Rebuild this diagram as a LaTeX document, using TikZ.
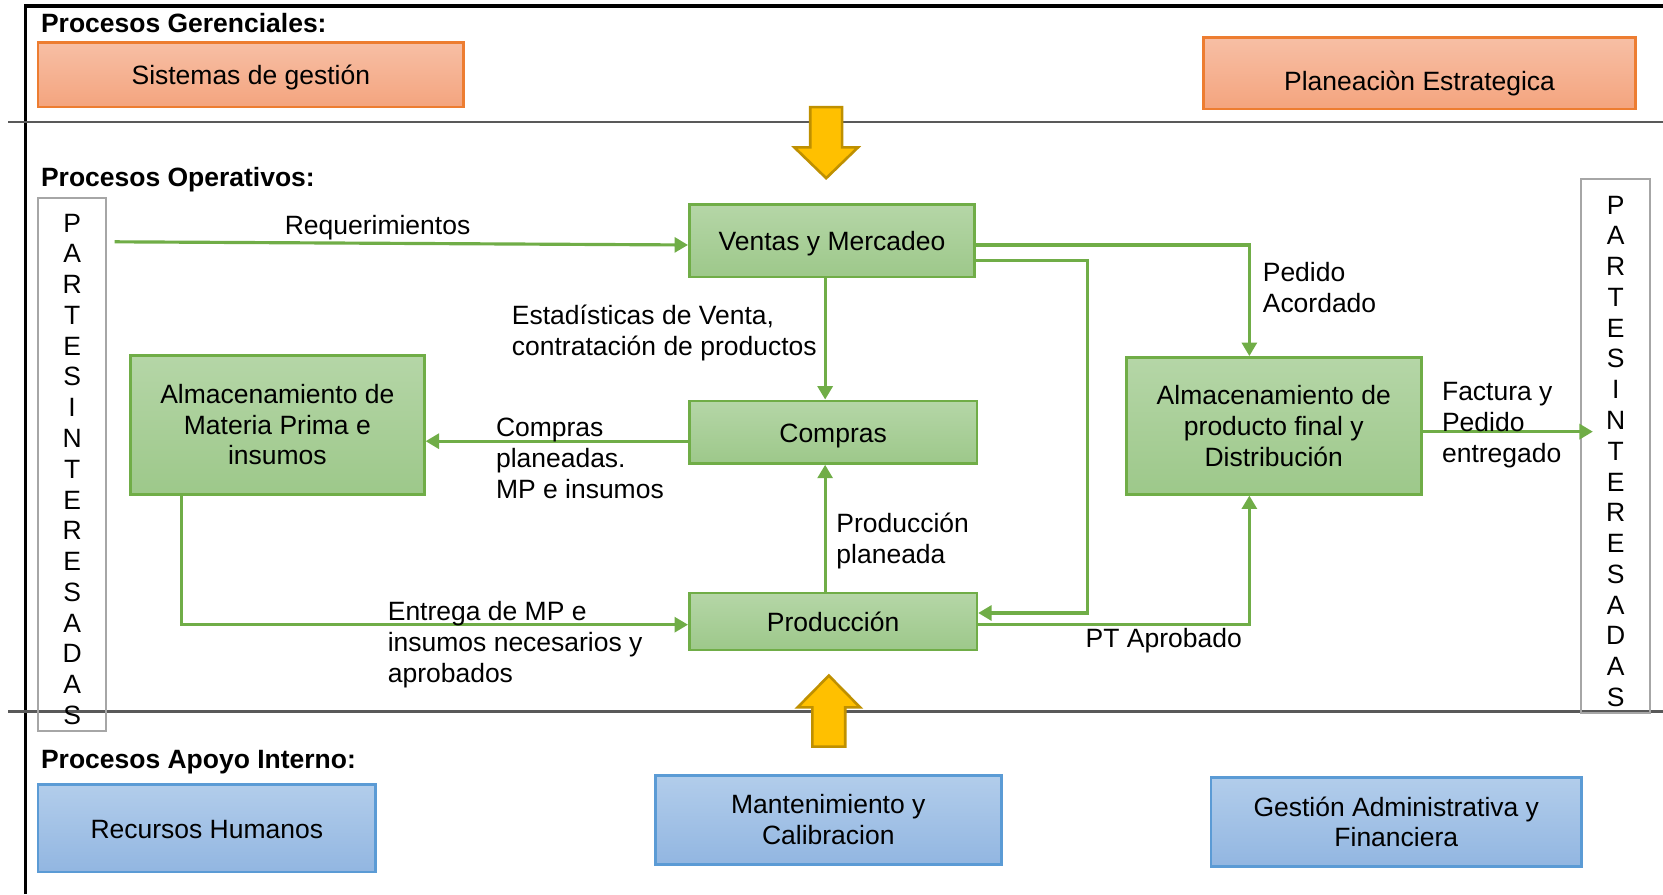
\documentclass[tikz,border=0pt]{standalone}
\usepackage{fontspec}
\setmainfont{Liberation Sans}
\usetikzlibrary{arrows.meta, calc}

\definecolor{naranjaArriba}{HTML}{F7BFA5}
\definecolor{naranjaAbajo}{HTML}{F4A47E}
\definecolor{naranjaBorde}{HTML}{ED7D31}
\definecolor{verdeArriba}{HTML}{B5D6A7}
\definecolor{verdeAbajo}{HTML}{9DC88A}
\definecolor{verdeBorde}{HTML}{70AD47}
\definecolor{azulArriba}{HTML}{B2CDEB}
\definecolor{azulAbajo}{HTML}{92B6E1}
\definecolor{azulBorde}{HTML}{5B9BD5}
\definecolor{amarillo}{HTML}{FFC000}
\definecolor{amarilloBorde}{HTML}{BF9000}
\definecolor{grisLinea}{HTML}{595959}
\definecolor{grisCaja}{HTML}{A6A6A6}

\newcommand{\letras}{P\\A\\R\\T\\E\\S\\I\\N\\T\\E\\R\\E\\S\\A\\D\\A\\S}

\tikzset{
  gerencial/.style={draw=naranjaBorde, line width=0.7pt, top color=naranjaArriba, bottom color=naranjaAbajo, align=center},
  operativo/.style={draw=verdeBorde, line width=0.7pt, top color=verdeArriba, bottom color=verdeAbajo, align=center},
  apoyo/.style={draw=azulBorde, line width=0.7pt, top color=azulArriba, bottom color=azulAbajo, align=center},
  unalinea/.style={text height=2.4mm, text depth=0.5mm},
  partes/.style={draw=grisCaja, line width=0.6pt},
  letrero/.style={align=center, inner sep=0pt},
  flecha/.style={draw=verdeBorde, line width=0.85pt, -{Triangle[length=3.6pt, width=4pt]}},
  etiqueta/.style={anchor=west, align=left, inner sep=0pt},
  titulo/.style={anchor=west, inner sep=0pt, font=\fontsize{7.1}{8.25}\selectfont\bfseries},
  bloque/.style={fill=amarillo, draw=amarilloBorde, line width=0.7pt}
}

\begin{document}
\begin{tikzpicture}[x=0.01cm, y=-0.01cm, font=\fontsize{7.1}{8.25}\selectfont]
\useasboundingbox (0,0) rectangle (1568,843);

% Marco y separadores
\draw[line width=1pt] (24,843) -- (24,6) -- (1568,6);
\draw[grisLinea, line width=0.7pt] (8,115) -- (1568,115);
\draw[grisLinea, line width=0.7pt] (8,671) -- (1568,671);

% Titulos
\node[titulo] (tger) at (38,22) {Procesos Gerenciales:};
\node[titulo] (top) at (38,169) {Procesos Operativos:};
\node[titulo] (tapo) at (38,719) {Procesos Apoyo Interno:};

% Procesos gerenciales
\node[gerencial, unalinea, minimum width=4.01cm, minimum height=0.61cm] (sistemas) at (236.5,70.5) {Sistemas de gestión};
\node[gerencial, minimum width=4.07cm, minimum height=0.64cm, text height=3.8mm, text depth=0.6mm] (planeacion) at (1338.5,69) {Planeaciòn Estrategica};

% Partes interesadas
\node[partes, minimum width=0.64cm, minimum height=5.02cm] (partesizq) at (68,438) {};
\node[letrero] (letrasizq) at (68,442.5) {\letras};
\node[partes, minimum width=0.65cm, minimum height=5.03cm] (partesder) at (1523.5,420.5) {};
\node[letrero] (letrasder) at (1523.5,425.5) {\letras};

% Procesos operativos
\node[operativo, unalinea, minimum width=2.69cm, minimum height=0.68cm] (ventas) at (784.5,227) {Ventas y Mercadeo};
\node[operativo, unalinea, minimum width=2.71cm, minimum height=0.59cm] (compras) at (785.5,407.5) {Compras};
\node[operativo, unalinea, minimum width=2.71cm, minimum height=0.54cm] (produccion) at (785.5,586) {Producción};
\node[operativo, minimum width=2.77cm, minimum height=1.31cm] (almmp) at (261.5,400.5) {Almacenamiento de\\Materia Prima e\\insumos};
\node[operativo, minimum width=2.78cm, minimum height=1.29cm] (almpf) at (1201,401.5) {Almacenamiento de\\producto final y\\Distribución};

% Procesos de apoyo
\node[apoyo, unalinea, minimum width=3.18cm, minimum height=0.82cm] (rrhh) at (195,781) {Recursos Humanos};
\node[apoyo, minimum width=3.26cm, minimum height=0.84cm] (mantenimiento) at (781,773) {Mantenimiento y\\Calibracion};
\node[apoyo, minimum width=3.49cm, minimum height=0.84cm] (gestion) at (1316.5,775) {Gestión Administrativa y\\Financiera};

% Conectores
\coordinate (reqini) at (108,228);
\draw[flecha] (reqini) -- (ventas.west |- 0,231);
\draw[flecha] (ventas.east |- 0,231) -| (1178,0 |- almpf.north);
\draw[flecha] (ventas.east |- 0,246) -- (1025,246) |- (produccion.east |- 0,578);
\draw[flecha] (778,0 |- ventas.south) -- (778,0 |- compras.north);
\draw[flecha] (compras.west |- 0,416) -- (almmp.east |- 0,416);
\draw[flecha] (778,0 |- produccion.north) -- (778,0 |- compras.south);
\draw[flecha] (171,0 |- almmp.south) |- (produccion.west |- 0,589);
\draw[flecha] (produccion.east |- 0,589) -| (1178,0 |- almpf.south);
\draw[flecha] (almpf.east |- 0,407) -- ($(partesder.west |- 0,407)+(12,0)$);

% Etiquetas
\node (lreq) at (356,215) {Requerimientos};
\node[etiqueta] (lpedido) at (1190,271) {Pedido\\Acordado};
\node[etiqueta] (lestad) at (482,314) {Estadísticas de Venta,\\contratación de productos};
\node[etiqueta] (lcompras) at (467,432) {Compras\\planeadas.\\MP e insumos};
\node[etiqueta] (lprod) at (788,510) {Producción\\planeada};
\node[etiqueta] (lentrega) at (365,608) {Entrega de MP e\\insumos necesarios y\\aprobados};
\node[etiqueta] (lpt) at (1023,604) {PT Aprobado};
\node[etiqueta] (lfactura) at (1359,401) {Factura y\\Pedido\\entregado};

% Flechas de bloque
\draw[bloque] (764,101) -- (794,101) -- (794,139) -- (809,139) -- (779,168) -- (749,139) -- (764,139) -- cycle;
\draw[bloque] (766,704) -- (797,704) -- (797,667) -- (811,667) -- (781.5,637) -- (752,667) -- (766,667) -- cycle;

\end{tikzpicture}
\end{document}
